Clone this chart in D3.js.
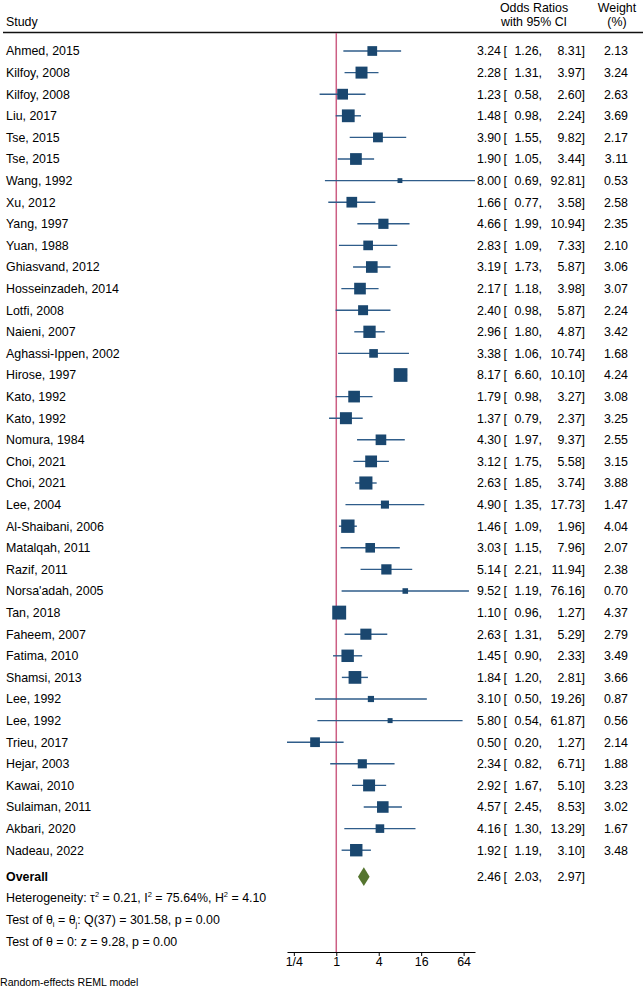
<!DOCTYPE html>
<html><head><meta charset="utf-8">
<script src="https://cdn.jsdelivr.net/npm/d3@7"></script>
<style>
html,body{margin:0;padding:0;background:#fff;}
text{font-family:"Liberation Sans",Arial,Helvetica,sans-serif;fill:#000;}
</style></head>
<body>
<svg id="chart" width="643" height="991"></svg>
<script>
const studies = ["Ahmed, 2015","Kilfoy, 2008","Kilfoy, 2008","Liu, 2017","Tse, 2015","Tse, 2015","Wang, 1992","Xu, 2012","Yang, 1997","Yuan, 1988","Ghiasvand, 2012","Hosseinzadeh, 2014","Lotfi, 2008","Naieni, 2007","Aghassi-Ippen, 2002","Hirose, 1997","Kato, 1992","Kato, 1992","Nomura, 1984","Choi, 2021","Choi, 2021","Lee, 2004","Al-Shaibani, 2006","Matalqah, 2011","Razif, 2011","Norsa'adah, 2005","Tan, 2018","Faheem, 2007","Fatima, 2010","Shamsi, 2013","Lee, 1992","Lee, 1992","Trieu, 2017","Hejar, 2003","Kawai, 2010","Sulaiman, 2011","Akbari, 2020","Nadeau, 2022"];
const oddsRatio = [3.24,2.28,1.23,1.48,3.90,1.90,8.00,1.66,4.66,2.83,3.19,2.17,2.40,2.96,3.38,8.17,1.79,1.37,4.30,3.12,2.63,4.90,1.46,3.03,5.14,9.52,1.10,2.63,1.45,1.84,3.10,5.80,0.50,2.34,2.92,4.57,4.16,1.92];
const lowerCI = [1.26,1.31,0.58,0.98,1.55,1.05,0.69,0.77,1.99,1.09,1.73,1.18,0.98,1.80,1.06,6.60,0.98,0.79,1.97,1.75,1.85,1.35,1.09,1.15,2.21,1.19,0.96,1.31,0.90,1.20,0.50,0.54,0.20,0.82,1.67,2.45,1.30,1.19];
const upperCI = [8.31,3.97,2.60,2.24,9.82,3.44,92.81,3.58,10.94,7.33,5.87,3.98,5.87,4.87,10.74,10.10,3.27,2.37,9.37,5.58,3.74,17.73,1.96,7.96,11.94,76.16,1.27,5.29,2.33,2.81,19.26,61.87,1.27,6.71,5.10,8.53,13.29,3.10];
const weights = [2.13,3.24,2.63,3.69,2.17,3.11,0.53,2.58,2.35,2.10,3.06,3.07,2.24,3.42,1.68,4.24,3.08,3.25,2.55,3.15,3.88,1.47,4.04,2.07,2.38,0.70,4.37,2.79,3.49,3.66,0.87,0.56,2.14,1.88,3.23,3.02,1.67,3.48];
const overall = {label:"Overall", or:2.46, lo:2.03, hi:2.97};
const tickValues = [0.25,1,4,16,64];
const tickLabels = ["1/4","1","4","16","64"];

const svg = d3.select("#chart");
const FS = 12.4;
const fmt = d3.format(".2f");

const x = d3.scaleLog().base(2)
  .domain([d3.min(lowerCI), d3.max(upperCI)])
  .range([287, 475]);
const y = d3.scaleLinear().domain([0, studies.length-1]).range([51, 850.2]);
const yOverall = 876.7;
const size = d3.scaleSqrt().domain([0, d3.max(weights)]).range([0, 13.7*Math.sqrt(d3.max(weights)/4.24)]);

// Headers
const hdr = svg.append("g").attr("font-size", FS);
hdr.append("text").attr("x",6).attr("y",22).attr("dy","0.35em").text("Study");
hdr.append("text").attr("x",534).attr("y",8).attr("dy","0.35em").attr("text-anchor","middle").text("Odds Ratios");
hdr.append("text").attr("x",534).attr("y",22).attr("dy","0.35em").attr("text-anchor","middle").text("with 95% CI");
hdr.append("text").attr("x",617).attr("y",8).attr("dy","0.35em").attr("text-anchor","middle").text("Weight");
hdr.append("text").attr("x",617).attr("y",22).attr("dy","0.35em").attr("text-anchor","middle").text("(%)");
svg.append("line").attr("x1",3).attr("x2",643).attr("y1",32.5).attr("y2",32.5).attr("stroke","#111").attr("stroke-width",1.3);

// No-effect line
svg.append("line").attr("x1",x(1)).attr("x2",x(1)).attr("y1",33).attr("y2",952)
  .attr("stroke","#cc5f84").attr("stroke-width",1.5);

const data = studies.map((s,i)=>({s, or:oddsRatio[i], lo:lowerCI[i], hi:upperCI[i], w:weights[i], i}));

const rows = svg.append("g").selectAll("g").data(data).join("g");
rows.append("line")
  .attr("x1",d=>x(d.lo)).attr("x2",d=>x(d.hi))
  .attr("y1",d=>y(d.i)).attr("y2",d=>y(d.i))
  .attr("stroke","#2f5d8a").attr("stroke-width",1.4);
rows.append("rect")
  .attr("x",d=>x(d.or)-size(d.w)/2).attr("y",d=>y(d.i)-size(d.w)/2)
  .attr("width",d=>size(d.w)).attr("height",d=>size(d.w))
  .attr("fill","#1a476f");

function textCols(g, yy, d, withW){
  g.append("text").attr("x",6).attr("y",yy).attr("dy","0.35em").attr("font-size",FS)
    .attr("font-weight", d.bold ? "bold" : null).text(d.label);
  g.append("text").attr("x",501).attr("y",yy).attr("dy","0.35em").attr("font-size",FS).attr("text-anchor","end").text(fmt(d.or));
  g.append("text").attr("x",503.5).attr("y",yy).attr("dy","0.35em").attr("font-size",FS).text("[");
  g.append("text").attr("x",542).attr("y",yy).attr("dy","0.35em").attr("font-size",FS).attr("text-anchor","end").text(fmt(d.lo)+",");
  g.append("text").attr("x",585).attr("y",yy).attr("dy","0.35em").attr("font-size",FS).attr("text-anchor","end").text(fmt(d.hi)+"]");
  if (withW) g.append("text").attr("x",628).attr("y",yy).attr("dy","0.35em").attr("font-size",FS).attr("text-anchor","end").text(fmt(d.w));
}
rows.each(function(d){ textCols(d3.select(this), y(d.i), {label:d.s, or:d.or, lo:d.lo, hi:d.hi, w:d.w}, true); });

// Overall diamond
const dh = 9.4;
svg.append("path")
  .attr("d", `M${x(overall.lo)},${yOverall} L${x(overall.or)},${yOverall-dh} L${x(overall.hi)},${yOverall} L${x(overall.or)},${yOverall+dh} Z`)
  .attr("fill","#55752f");
textCols(svg.append("g"), yOverall, {label:overall.label, or:overall.or, lo:overall.lo, hi:overall.hi, bold:true}, false);

// Stats text (super/subscripts with absolute pixel shifts)
const st = svg.append("g").attr("font-size",FS);
const SS = 7.5;
function addRich(yy, parts){
  const t = st.append("text").attr("x",6).attr("y",yy).attr("dy","0.35em");
  parts.forEach(p=>{
    if (typeof p === "string") t.append("tspan").text(p);
    else t.append("tspan").attr("font-size",SS).attr("baseline-shift", p.sup ? "5px" : "-3px").text(p.t);
  });
}
addRich(898, ["Heterogeneity: τ",{t:"2",sup:true}," = 0.21, I",{t:"2",sup:true}," = 75.64%, H",{t:"2",sup:true}," = 4.10"]);
addRich(920, ["Test of θ",{t:"i",sup:false}," = θ",{t:"j",sup:false},": Q(37) = 301.58, p = 0.00"]);
addRich(941.5, ["Test of θ = 0: z = 9.28, p = 0.00"]);

// Axis
const axis = d3.axisBottom(x).tickValues(tickValues).tickFormat((d,i)=>tickLabels[i]).tickSize(4).tickSizeOuter(0);
const ag = svg.append("g").attr("transform","translate(0,952)").call(axis);
ag.select(".domain").attr("stroke","#000").attr("stroke-width",1.2);
ag.selectAll(".tick line").attr("stroke","#000");
ag.selectAll(".tick text").attr("font-size",FS).attr("font-family","'Liberation Sans',Arial,sans-serif").attr("fill","#000").attr("y",5);

svg.append("text").attr("x",0).attr("y",982).attr("dy","0.35em").attr("font-size",10.6).text("Random-effects REML model");
</script>
</body></html>
